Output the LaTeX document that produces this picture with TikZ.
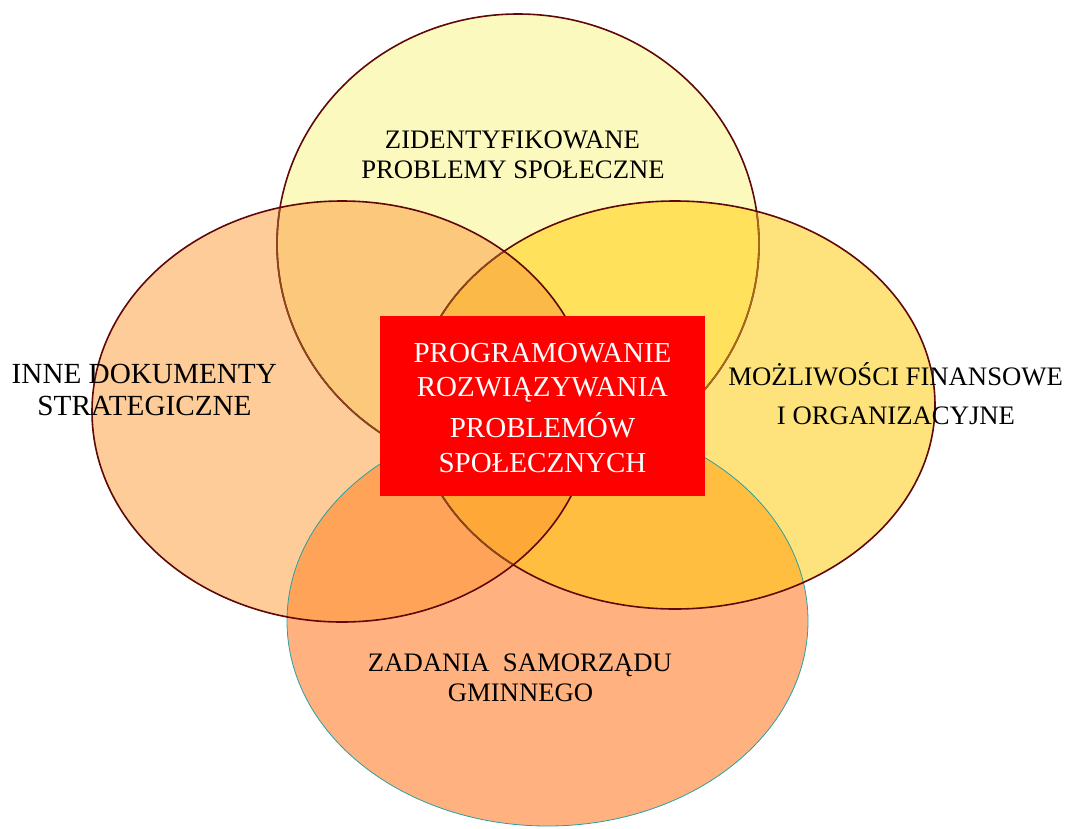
\documentclass[tikz,border=0pt]{standalone}
\usepackage{fontspec}
\setmainfont{Liberation Serif}
\definecolor{cT}{RGB}{252,249,190}
\definecolor{cL}{RGB}{254,204,153}
\definecolor{cR}{RGB}{254,227,125}
\definecolor{cB}{RGB}{255,178,128}
\definecolor{cTL}{RGB}{252,200,124}
\definecolor{cTR}{RGB}{255,225,92}
\definecolor{cLB}{RGB}{254,163,88}
\definecolor{cRB}{RGB}{255,190,64}
\definecolor{cLR}{RGB}{253,180,65}
\definecolor{cTLR}{RGB}{251,186,72}
\definecolor{cLRB}{RGB}{253,168,55}
\definecolor{cDark}{RGB}{96,8,8}
\definecolor{cBrownL}{RGB}{140,70,28}
\definecolor{cBrownR}{RGB}{165,105,25}
\definecolor{cTeal}{RGB}{40,160,160}
\begin{document}
\begin{tikzpicture}[x=1pt,y=-1pt,
  lab/.style={anchor=base,inner sep=0pt,font=\fontsize{26.7}{30}\selectfont,text=black},
  biglab/.style={anchor=base,inner sep=0pt,font=\fontsize{29.2}{32}\selectfont,text=black},
  boxlab/.style={anchor=base,inner sep=0pt,font=\fontsize{29}{32}\selectfont,text=white},
  darkline/.style={draw=cDark,line width=1.6pt},
  brownL/.style={draw=cBrownL,line width=1.6pt},
  brownR/.style={draw=cBrownR,line width=1.6pt},
  tealline/.style={draw=cTeal,line width=0.8pt},
  redbox/.style={fill=red,draw=none,inner sep=0pt,minimum width=325pt,minimum height=180pt}]
\useasboundingbox (0,0) rectangle (1069,828);
\def\ellT{(518,244) ellipse [x radius=241pt, y radius=230pt]}
\def\ellL{(342,411.5) ellipse [x radius=250pt, y radius=210.5pt]}
\def\ellR{(675,405) ellipse [x radius=260pt, y radius=204pt]}
\def\ellB{(547.5,621) ellipse [x radius=260.5pt, y radius=205pt]}
% single regions
\fill[cT] \ellT;
\fill[cB] \ellB;
\fill[cR] \ellR;
\fill[cL] \ellL;
% pairs
\begin{scope}
  \clip \ellT;
  \fill[cTL] \ellL;
  \fill[cTR] \ellR;
\end{scope}
\begin{scope}
  \clip \ellB;
  \fill[cLB] \ellL;
  \fill[cRB] \ellR;
\end{scope}
\begin{scope}
  \clip \ellL;
  \fill[cLR] \ellR;
\end{scope}
% triples
\begin{scope}
  \clip \ellL;
  \clip \ellR;
  \fill[cTLR] \ellT;
  \fill[cLRB] \ellB;
\end{scope}
% borders
\draw[tealline] \ellB;
\draw[darkline] \ellT;
\begin{scope}
  \clip \ellR;
  \draw[brownR] \ellT;
\end{scope}
\begin{scope}
  \clip \ellL;
  \draw[brownL] \ellT;
\end{scope}
\draw[darkline] \ellR;
\begin{scope}
  \clip \ellL;
  \draw[brownL] \ellR;
\end{scope}
\draw[darkline] \ellL;
% central box
\node[redbox] (box) at (542.5,406) {};
\node[boxlab] (b1) at (542.5,362.7) {PROGRAMOWANIE};
\node[boxlab] (b2) at (542.5,396) {ROZWIĄZYWANIA};
\node[boxlab] (b3) at (542.5,437.7) {PROBLEMÓW};
\node[boxlab] (b4) at (542.5,472) {SPOŁECZNYCH};
% labels
\node[lab] (t1) at (512.5,148.3) {ZIDENTYFIKOWANE};
\node[lab] (t2) at (513,178.3) {PROBLEMY SPOŁECZNE};
\node[biglab] (l1) at (144.3,383.3) {INNE DOKUMENTY};
\node[biglab] (l2) at (144.5,415) {STRATEGICZNE};
\node[lab] (r1) at (895.7,385.7) {MOŻLIWOŚCI FINANSOWE};
\node[lab] (r2) at (896,424) {I ORGANIZACYJNE};
\node[lab] (d1) at (520,671) {ZADANIA\ \ SAMORZĄDU};
\node[lab] (d2) at (520.5,701) {GMINNEGO};
\end{tikzpicture}
\end{document}
